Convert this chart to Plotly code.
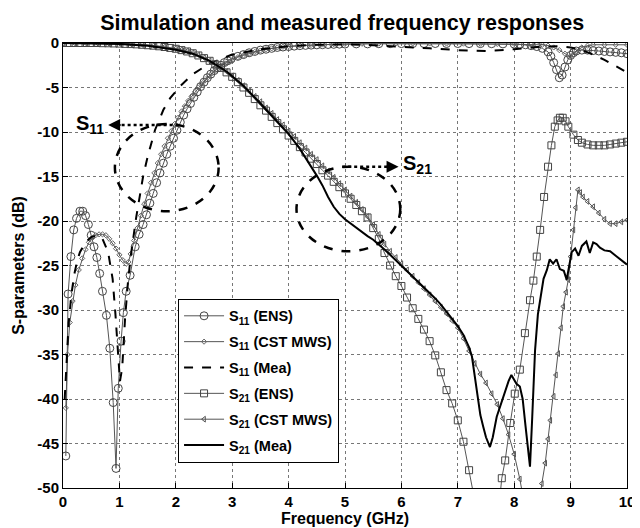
import plotly.graph_objects as go

# ---------------- data ----------------
f_s11_ens = [0.05,0.09,0.14,0.19,0.24,0.30,0.35,0.40,0.45,0.50,0.55,0.60,0.65,0.70,0.77,0.83,0.89,0.94,0.98,1.03,
             1.07,1.12,1.19,1.28,1.35,1.42,1.48,1.54,1.60,1.66,1.72,1.78,1.84,1.90,1.96,2.02,2.08,2.14,2.20,2.26,
             2.32,2.38,2.44,2.50,2.56,2.62,2.68,2.74,2.80,2.86,2.92,2.98,3.1,3.2,3.3,3.4,3.5,3.6,3.7,3.8,
             3.9,4.0,4.1,4.2,4.3,4.4,4.5,4.6,4.7,4.8,4.9,5.0,5.2,5.4,5.6,5.8,6.0,6.2,6.4,6.6,
             6.8,7.0,7.2,7.4,7.6,7.8,8.0,8.1,8.2,8.3,8.4,8.5,8.6,8.65,8.7,8.75,8.8,8.85,8.9,8.95,
             9.0,9.05,9.1,9.2,9.3,9.4,9.5,9.6,9.7,9.8,9.9,10.0]
s11_ens = [-46.4,-28.2,-24.0,-21.0,-19.7,-18.9,-18.9,-19.4,-20.4,-21.6,-22.9,-24.1,-25.9,-27.9,-30.6,-34.3,-40.4,-47.8,-38.8,-33.5,
           -30.3,-27.9,-26.1,-22.9,-21.5,-20.4,-19.3,-18.0,-16.9,-15.7,-14.6,-13.5,-12.5,-11.6,-10.7,-9.8,-8.9,-8.1,-7.4,-6.8,
           -6.1,-5.5,-4.9,-4.4,-3.9,-3.5,-3.1,-2.8,-2.5,-2.2,-2.0,-1.8,-1.5,-1.3,-1.1,-0.95,-0.8,-0.7,-0.6,-0.5,
           -0.45,-0.4,-0.35,-0.3,-0.27,-0.24,-0.21,-0.19,-0.17,-0.15,-0.13,-0.12,-0.1,-0.1,-0.08,-0.08,-0.07,-0.07,-0.06,-0.06,
           -0.06,-0.06,-0.07,-0.07,-0.08,-0.1,-0.12,-0.15,-0.2,-0.3,-0.4,-0.6,-1.0,-1.5,-2.2,-3.0,-3.9,-3.6,-2.7,-1.9,
           -1.4,-1.1,-0.9,-0.8,-0.8,-0.85,-0.9,-0.95,-1.0,-1.05,-1.1,-1.2]

f_s11_cst = [0.05,0.08,0.12,0.17,0.22,0.28,0.34,0.40,0.46,0.52,0.58,0.64,0.70,0.76,0.82,0.88,0.94,1.00,1.06,1.12,
             1.16,1.20,1.26,1.32,1.38,1.44,1.50,1.56,1.62,1.68,1.74,1.80,1.86,1.92,1.98,2.04,2.10,2.16,2.22,2.28,
             2.34,2.40,2.46,2.52,2.58,2.64,2.70,2.76,2.82,2.88,2.94,3.0,3.1,3.2,3.3,3.4,3.5,3.6,3.7,3.8,
             3.9,4.0,4.2,4.4,4.6,4.8,5.0,5.3,5.6,5.9,6.2,6.5,6.8,7.1,7.4,7.7,8.0,8.3,8.5,8.6,
             8.7,8.8,8.9,9.0,9.05,9.1,9.2,9.3,9.4,9.6,9.8,10.0]
s11_cst = [-41.0,-35.0,-31.4,-29.0,-27.2,-25.5,-24.2,-23.2,-22.4,-21.9,-21.6,-21.5,-21.5,-21.6,-22.0,-22.5,-23.1,-23.8,-24.4,-24.8,
           -24.6,-23.7,-22.2,-20.8,-19.4,-18.1,-16.9,-15.7,-14.6,-13.5,-12.5,-11.6,-10.7,-9.9,-9.1,-8.4,-7.7,-7.1,-6.5,-6.0,
           -5.5,-5.0,-4.6,-4.2,-3.8,-3.4,-3.1,-2.8,-2.5,-2.3,-2.1,-1.9,-1.6,-1.4,-1.2,-1.0,-0.85,-0.7,-0.6,-0.5,
           -0.42,-0.36,-0.28,-0.22,-0.17,-0.13,-0.1,-0.08,-0.06,-0.05,-0.05,-0.05,-0.06,-0.07,-0.08,-0.1,-0.12,-0.15,-0.2,-0.3,
           -0.5,-0.8,-1.2,-1.5,-1.3,-0.9,-0.5,-0.3,-0.2,-0.2,-0.2,-0.2]

f_s11_mea = [0.03,0.06,0.1,0.15,0.2,0.25,0.3,0.4,0.5,0.6,0.7,0.8,0.88,0.93,0.97,1.01,1.05,1.1,1.15,1.2,
             1.3,1.42,1.5,1.63,1.78,1.9,2.07,2.3,2.6,3.0,3.5,4.0,4.5,5.0,5.5,6.0,6.5,7.0,7.5,8.0,
             8.5,8.8,9.0,9.2,9.4,9.6,9.8,10.0]
s11_mea = [-40.0,-36.0,-31.5,-28.2,-26.0,-24.5,-23.5,-22.4,-21.8,-21.6,-22.0,-23.5,-26.5,-30.5,-35.0,-38.0,-36.5,-31.0,-27.0,-24.0,
           -19.5,-15.0,-12.8,-9.8,-7.5,-6.2,-4.9,-3.5,-2.3,-1.3,-0.7,-0.35,-0.2,-0.15,-0.25,-0.4,-0.6,-0.8,-0.9,-0.7,
           -0.4,-0.35,-0.5,-0.8,-1.3,-1.9,-2.6,-3.3]

f_s21_ens = [0.0,0.1,0.2,0.3,0.4,0.5,0.6,0.7,0.8,0.9,1.0,1.1,1.2,1.3,1.4,1.5,1.6,1.7,1.8,1.9,
             2.0,2.1,2.2,2.3,2.4,2.5,2.6,2.7,2.8,2.9,3.0,3.1,3.2,3.3,3.4,3.5,3.6,3.7,3.8,3.9,
             4.0,4.1,4.2,4.3,4.4,4.5,4.6,4.7,4.8,4.9,5.0,5.1,5.2,5.3,5.4,5.5,5.6,5.7,5.8,5.9,
             6.0,6.1,6.2,6.3,6.4,6.5,6.6,6.7,6.8,6.9,7.0,7.1,7.2,7.3,7.4,7.5,7.6,7.7,7.78,7.84,
             7.93,8.01,8.1,8.19,8.28,8.34,8.4,8.46,8.53,8.6,8.66,8.72,8.77,8.81,8.86,8.91,8.96,9.05,9.13,9.2,
             9.3,9.4,9.5,9.6,9.7,9.8,9.9,10.0]
s21_ens = [0.0,0.0,0.0,0.0,0.0,0.0,0.0,-0.02,-0.03,-0.05,-0.07,-0.1,-0.12,-0.15,-0.2,-0.25,-0.3,-0.37,-0.45,-0.55,
           -0.65,-0.8,-0.95,-1.15,-1.4,-1.7,-2.0,-2.4,-2.8,-3.3,-3.8,-4.4,-5.0,-5.6,-6.3,-7.0,-7.6,-8.3,-9.0,-9.7,
           -10.4,-11.0,-11.7,-12.3,-13.0,-13.6,-14.3,-14.9,-15.6,-16.2,-16.9,-17.5,-18.2,-18.9,-19.6,-20.8,-22.0,-23.6,-25.0,-26.2,
           -27.3,-28.6,-29.8,-31.0,-32.2,-33.5,-35.1,-37.0,-39.0,-40.5,-42.4,-44.8,-48.0,-51.5,-55.0,-58.0,-58.0,-54.0,-48.9,-46.9,
           -42.7,-39.4,-36.7,-32.6,-28.9,-26.7,-24.0,-21.0,-17.3,-13.9,-11.5,-9.4,-8.7,-8.4,-8.4,-8.8,-9.4,-10.3,-10.9,-11.2,
           -11.4,-11.5,-11.5,-11.5,-11.4,-11.3,-11.2,-11.1]

f_s21_cst = [0.0,0.2,0.4,0.6,0.8,1.0,1.2,1.4,1.6,1.8,2.0,2.1,2.2,2.3,2.4,2.5,2.6,2.7,2.8,2.9,
             3.0,3.1,3.2,3.3,3.4,3.5,3.6,3.7,3.8,3.9,4.0,4.1,4.2,4.3,4.4,4.5,4.6,4.7,4.8,4.9,
             5.0,5.1,5.2,5.3,5.4,5.5,5.6,5.7,5.8,5.9,6.0,6.1,6.2,6.3,6.4,6.5,6.6,6.7,6.8,6.9,
             7.0,7.1,7.2,7.3,7.4,7.5,7.6,7.7,7.8,7.9,8.0,8.1,8.2,8.3,8.4,8.49,8.55,8.6,8.64,8.7,
             8.74,8.78,8.83,8.87,8.92,8.96,9.0,9.05,9.09,9.13,9.17,9.22,9.3,9.4,9.5,9.6,9.7,9.8,9.9,10.0]
s21_cst = [0.0,0.0,0.0,0.0,-0.02,-0.05,-0.1,-0.17,-0.27,-0.42,-0.6,-0.75,-0.9,-1.1,-1.35,-1.65,-2.0,-2.35,-2.75,-3.2,
           -3.7,-4.2,-4.8,-5.4,-6.0,-6.6,-7.3,-7.9,-8.6,-9.2,-9.9,-10.5,-11.2,-11.8,-12.5,-13.1,-13.8,-14.4,-15.1,-15.8,
           -16.5,-17.2,-17.9,-18.7,-19.5,-20.4,-21.5,-22.6,-23.4,-24.1,-24.8,-25.5,-26.2,-26.9,-27.6,-28.3,-29.0,-29.7,-30.4,-31.2,
           -32.0,-33.2,-34.6,-36.0,-37.2,-38.2,-39.4,-40.6,-42.2,-44.0,-46.2,-49.0,-52.5,-56.0,-54.0,-49.5,-47.2,-44.5,-42.4,-39.7,
           -37.3,-34.9,-32.0,-29.6,-28.0,-26.6,-24.0,-21.0,-18.5,-16.5,-16.8,-17.3,-17.8,-18.4,-19.1,-19.8,-20.3,-20.3,-20.1,-19.9]

f_s21_mea = [0.0,0.5,1.0,1.5,2.0,2.3,2.6,2.9,3.2,3.5,3.8,4.0,4.2,4.4,4.5,4.6,4.7,4.8,4.9,5.0,
             5.1,5.2,5.3,5.4,5.5,5.6,5.7,5.8,5.9,6.0,6.1,6.2,6.3,6.4,6.5,6.6,6.7,6.8,6.9,7.0,
             7.1,7.2,7.25,7.3,7.35,7.4,7.45,7.5,7.57,7.62,7.69,7.76,7.84,7.9,7.95,8.0,8.04,8.1,8.15,8.2,
             8.25,8.28,8.32,8.37,8.42,8.46,8.52,8.58,8.63,8.69,8.75,8.81,8.88,8.93,8.97,9.02,9.08,9.14,9.2,9.28,
             9.34,9.4,9.46,9.52,9.6,9.7,9.8,9.9,10.0]
s21_mea = [0.0,-0.05,-0.1,-0.3,-0.75,-1.2,-2.0,-3.2,-4.8,-6.8,-8.8,-10.2,-11.9,-13.8,-14.9,-16.0,-17.3,-18.4,-19.2,-19.8,
           -20.3,-20.7,-21.2,-21.7,-22.1,-22.6,-23.2,-23.8,-24.4,-25.0,-25.6,-26.2,-26.8,-27.5,-28.0,-28.7,-29.4,-30.2,-31.0,-31.8,
           -32.8,-34.2,-35.2,-37.5,-40.0,-41.8,-43.1,-44.3,-45.4,-44.3,-42.0,-40.6,-39.0,-38.0,-37.3,-37.9,-38.3,-38.6,-40.0,-43.0,
           -46.0,-47.6,-42.0,-34.5,-30.5,-28.9,-26.5,-25.5,-24.3,-24.8,-24.3,-25.4,-25.6,-26.6,-25.0,-23.5,-23.1,-23.9,-22.8,-22.3,
           -23.6,-22.4,-22.6,-23.0,-23.3,-23.4,-23.9,-24.4,-24.9]

x_ticks = [0, 1, 2, 3, 4, 5, 6, 7, 8, 9, 10]
y_ticks = [0, -5, -10, -15, -20, -25, -30, -35, -40, -45, -50]

names = ["S<sub>11</sub> (ENS)", "S<sub>11</sub> (CST MWS)", "S<sub>11</sub> (Mea)",
         "S<sub>21</sub> (ENS)", "S<sub>21</sub> (CST MWS)", "S<sub>21</sub> (Mea)"]

# ---------------- figure ----------------
FONT = "Liberation Sans, Arial, sans-serif"
GRAY = "#555555"
fig = go.Figure()

fig.add_trace(go.Scatter(x=f_s11_ens, y=s11_ens, name=names[0], legendgroup="g1", mode="lines+markers",
                         line=dict(color=GRAY, width=1),
                         marker=dict(symbol="circle-open", size=8, color="#444444", line=dict(width=1))))
fig.add_trace(go.Scatter(x=f_s11_cst, y=s11_cst, name=names[1], legendgroup="g2", mode="lines+markers",
                         line=dict(color=GRAY, width=1),
                         marker=dict(symbol="diamond-open", size=4, color="#666666", line=dict(width=1))))
fig.add_trace(go.Scatter(x=f_s11_mea, y=s11_mea, name=names[2], legendgroup="g3", mode="lines",
                         line=dict(color="black", width=2, dash="dash")))
fig.add_trace(go.Scatter(x=f_s21_ens, y=s21_ens, name=names[3], legendgroup="g4", mode="lines+markers",
                         line=dict(color=GRAY, width=1),
                         marker=dict(symbol="square-open", size=7, color="#444444", line=dict(width=1))))
fig.add_trace(go.Scatter(x=f_s21_cst, y=s21_cst, name=names[4], legendgroup="g5", mode="lines+markers",
                         line=dict(color=GRAY, width=1),
                         marker=dict(symbol="triangle-left-open", size=5, color="#555555", line=dict(width=1))))
fig.add_trace(go.Scatter(x=f_s21_mea, y=s21_mea, name=names[5], legendgroup="g6", mode="lines",
                         line=dict(color="black", width=2)))

# dashed ellipses
fig.add_shape(type="circle", xref="x", yref="y", x0=0.92, x1=2.76, y0=-18.9, y1=-9.1,
              line=dict(color="black", width=2.5, dash="dash"))
fig.add_shape(type="circle", xref="x", yref="y", x0=4.14, x1=5.98, y0=-23.4, y1=-13.9,
              line=dict(color="black", width=2.5, dash="dash"))
# dotted arrow lines
fig.add_shape(type="line", xref="x", yref="y", x0=2.05, x1=0.95, y0=-9.2, y1=-9.2,
              line=dict(color="black", width=2.5, dash="dot"))
fig.add_shape(type="line", xref="x", yref="y", x0=4.95, x1=5.8, y0=-13.9, y1=-13.9,
              line=dict(color="black", width=2.5, dash="dot"))
fig.add_annotation(x=0.8, y=-9.2, xref="x", yref="y", ax=14, ay=0, text="", showarrow=True,
                   arrowhead=2, arrowsize=1.2, arrowwidth=2, arrowcolor="black")
fig.add_annotation(x=5.95, y=-13.9, xref="x", yref="y", ax=-14, ay=0, text="", showarrow=True,
                   arrowhead=2, arrowsize=1.2, arrowwidth=2, arrowcolor="black")
fig.add_annotation(x=0.76, y=-9.2, xref="x", yref="y", text="<b>S<sub>11</sub></b>", showarrow=False,
                   xanchor="right", font=dict(family=FONT, size=20, color="black"))
fig.add_annotation(x=6.0, y=-13.7, xref="x", yref="y", text="<b>S<sub>21</sub></b>", showarrow=False,
                   xanchor="left", font=dict(family=FONT, size=20, color="black"))

axis_common = dict(showline=True, mirror=True, linecolor="black", linewidth=1,
                   ticks="inside", ticklen=5, tickcolor="black", automargin=False,
                   showgrid=True, gridcolor="#777777", griddash="dot", gridwidth=1,
                   zeroline=False, tickfont=dict(family=FONT, size=15, color="black", weight="bold"))

# the page body adds an 8 px offset, so the figure is 632x520
fig.update_layout(
    width=632, height=520,
    margin=dict(l=55, r=13, t=35, b=40),
    paper_bgcolor="white", plot_bgcolor="white",
    font=dict(family=FONT, color="black"),
    title=dict(text="<b>Simulation and measured frequency responses</b>", x=0.495, xanchor="center",
               xref="paper", y=0.973, yanchor="middle", font=dict(family=FONT, size=21.5, color="black")),
    xaxis=dict(range=[0, 10], tickvals=x_ticks, ticktext=[str(v) for v in x_ticks],
               title=dict(text="<b>Frequency (GHz)</b>", standoff=0, font=dict(family=FONT, size=16)),
               **axis_common),
    yaxis=dict(range=[-50, 0], tickvals=y_ticks, ticktext=[str(v) for v in y_ticks],
               title=dict(text="<b>S-parameters (dB)</b>", standoff=8, font=dict(family=FONT, size=16)),
               **axis_common),
    legend=dict(x=0.204, y=0.425, xanchor="left", yanchor="top", bgcolor="white",
                bordercolor="black", borderwidth=1, itemwidth=40,
                font=dict(family=FONT, size=14.5, color="black", weight="bold"), tracegroupgap=4),
    showlegend=True,
)

fig.write_html("out.html")
